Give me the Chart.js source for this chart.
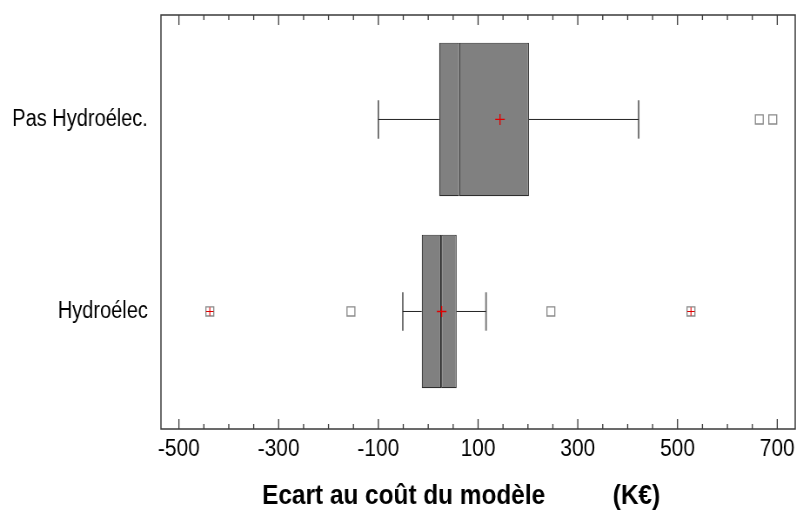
<!DOCTYPE html>
<html>
<head>
<meta charset="utf-8">
<script src="https://cdn.jsdelivr.net/npm/chart.js@4.4.1/dist/chart.umd.min.js"></script>
<style>
  html, body { margin: 0; padding: 0; background: #fff; overflow: hidden; }
  /* the source picture is squeezed horizontally, so draw wider and squeeze */
  #wrap { width: 916px; height: 513px; transform: scaleX(0.87); transform-origin: 0 0; }
</style>
</head>
<body>
<div id="wrap"><canvas id="chart" width="916" height="513"></canvas></div>
<script>
// data (index 0 = bottom row)
const categories = ['Hydroélec', 'Pas Hydroélec.'];
const whiskerLow = [-51, -100];
const q1 = [-13, 22];
const median = [26, 62];
const q3 = [57, 202];
const whiskerHigh = [116, 422];
const means = [27, 144];
const outliers = [[-155, 246], [664, 691]];
const extremes = [[-438, 527], []];

const xMajorTicks = [-500, -300, -100, 100, 300, 500, 700];
const xMinorTicks = [-450, -400, -350, -250, -200, -150, -50, 0, 50, 150, 200, 250, 350, 400, 450, 550, 600, 650];

const axisTitle = 'Ecart au coût du modèle          (K€)     ';
const family = '"Liberation Sans", Arial, sans-serif';
const capHalf = 0.1;

const boxes = [[q1, median], [median, q3]].map(([lo, hi]) => ({
    type: 'bar',
    indexAxis: 'y',
    order: 3,
    data: categories.map((c, i) => ({ x: [lo[i], hi[i]], y: i })),
    backgroundColor: '#808080',
    borderColor: '#2e2e2e',
    borderWidth: 1.2,
    borderSkipped: false,
    grouped: false,
    barPercentage: 1,
    categoryPercentage: 0.8
}));

const lineSet = (pts, color, width) => ({
    type: 'line',
    order: 2,
    data: pts,
    borderColor: color,
    borderWidth: width,
    pointRadius: 0,
    fill: false
});

const whiskers = categories.flatMap((c, i) => [
    lineSet([{ x: whiskerLow[i], y: i }, { x: q1[i], y: i }], '#222', 1),
    lineSet([{ x: q3[i], y: i }, { x: whiskerHigh[i], y: i }], '#222', 1),
    lineSet([{ x: whiskerLow[i], y: i - capHalf }, { x: whiskerLow[i], y: i + capHalf }], '#555', 1.6),
    lineSet([{ x: whiskerHigh[i], y: i - capHalf }, { x: whiskerHigh[i], y: i + capHalf }], '#777', 2)
]);

const toPoints = rows => rows.flatMap((arr, i) => arr.map(v => ({ x: v, y: i })));

const marks = [
    {
        type: 'scatter', order: 0,
        data: means.map((v, i) => ({ x: v, y: i })),
        pointStyle: 'cross', pointRadius: 5.5,
        pointBorderColor: '#e00000', pointBorderWidth: 1.3
    },
    {
        type: 'scatter', order: 0,
        data: toPoints(extremes),
        pointStyle: 'cross', pointRadius: 4.3,
        pointBorderColor: '#e00000', pointBorderWidth: 1.1
    },
    {
        type: 'scatter', order: 1,
        data: toPoints(outliers).concat(toPoints(extremes)),
        pointStyle: 'rect', pointRadius: 6.4,
        pointBackgroundColor: '#fff', pointBorderColor: '#8a8a8a', pointBorderWidth: 1.3
    }
];

const frameTicks = {
    id: 'frameTicks',
    afterDraw(chart) {
        const { ctx, chartArea: a } = chart;
        const x = chart.scales.x;
        ctx.save();
        ctx.strokeStyle = '#3a3a3a';
        ctx.lineWidth = 1.5;
        ctx.strokeRect(a.left, a.top, a.right - a.left, a.bottom - a.top);
        ctx.lineWidth = 1.3;
        x.ticks.forEach(t => {
            const px = x.getPixelForValue(t.value);
            const len = xMajorTicks.includes(t.value) ? 10 : 5;
            ctx.beginPath();
            ctx.moveTo(px, a.top);
            ctx.lineTo(px, a.top + len);
            ctx.moveTo(px, a.bottom);
            ctx.lineTo(px, a.bottom - len);
            ctx.stroke();
        });
        ctx.restore();
    }
};

new Chart(document.getElementById('chart'), {
    type: 'scatter',
    data: { datasets: [...marks, ...whiskers, ...boxes] },
    plugins: [frameTicks],
    options: {
        responsive: false,
        animation: false,
        events: [],
        layout: { autoPadding: false, padding: { top: 15, right: 2, left: 0, bottom: 0 } },
        plugins: { legend: { display: false }, tooltip: { enabled: false } },
        scales: {
            x: {
                type: 'linear',
                min: -536,
                max: 736,
                offset: false,
                grid: { display: false, drawTicks: false, offset: false },
                border: { display: false },
                afterBuildTicks: s => {
                    s.ticks = [...xMajorTicks, ...xMinorTicks].sort((a, b) => a - b).map(v => ({ value: v }));
                },
                afterFit: s => {
                    s.height = 84;
                    s.paddingLeft = 0;
                    s.paddingRight = 0;
                },
                ticks: {
                    autoSkip: false,
                    maxRotation: 0,
                    padding: 6,
                    color: '#000',
                    font: { family: family, size: 24 },
                    callback: v => xMajorTicks.includes(v) ? String(v) : ''
                },
                title: {
                    display: true,
                    text: axisTitle,
                    color: '#000',
                    font: { family: family, size: 28, weight: 'bold' },
                    padding: { top: 0, bottom: 0 }
                }
            },
            y: {
                type: 'linear',
                min: -0.612,
                max: 1.544,
                offset: false,
                grid: { display: false, drawTicks: false, offset: false },
                border: { display: false },
                afterBuildTicks: s => {
                    s.ticks = categories.map((c, i) => ({ value: i }));
                },
                afterFit: s => {
                    s.width = 185;
                    s.paddingTop = 0;
                    s.paddingBottom = 0;
                },
                ticks: {
                    padding: 15,
                    color: '#000',
                    font: { family: family, size: 23 },
                    callback: v => categories[v]
                }
            }
        }
    }
});
</script>
</body>
</html>
